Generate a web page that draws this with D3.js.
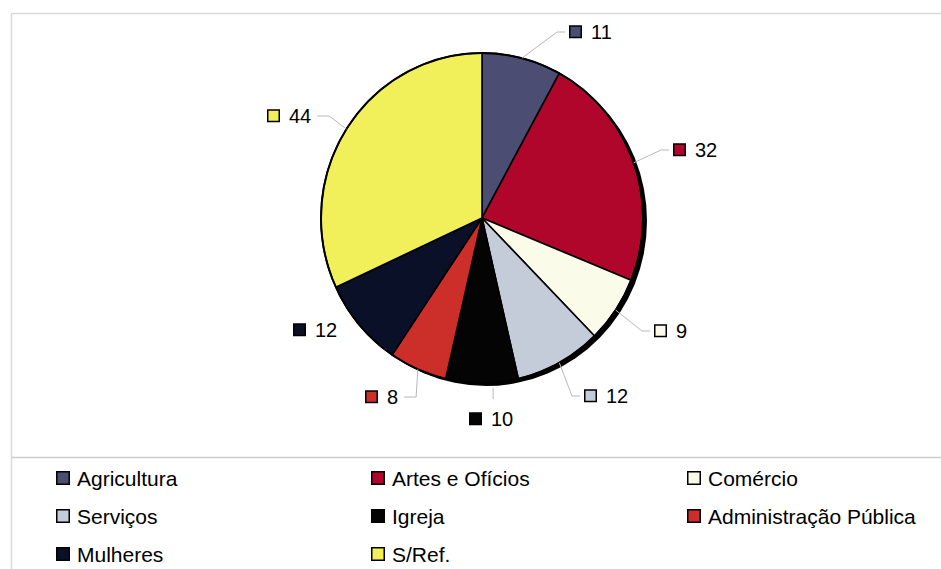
<!DOCTYPE html>
<html>
<head>
<meta charset="utf-8">
<script src="https://cdn.jsdelivr.net/npm/d3@7/dist/d3.min.js"></script>
<style>
  html, body { margin: 0; padding: 0; background: #fff; }
  svg { display: block; font-family: "Liberation Sans", Arial, sans-serif; }
</style>
</head>
<body>
<svg id="chart" width="941" height="569"></svg>
<script>
// Occupations, clockwise from 12 o'clock
const categories = ["Agricultura", "Artes e Ofícios", "Comércio", "Serviços",
                    "Igreja", "Administração Pública", "Mulheres", "S/Ref."];
const values = [11, 32, 9, 12, 10, 8, 12, 44];
const colors = ["#4b4e72", "#b0062c", "#fbfbea", "#c4ccd9",
                "#040404", "#cc2e2a", "#0b1029", "#f2f05a"];

// Where each value label sits (left edge of its swatch, vertical centre)
const labelAnchors = [[569, 32], [673, 150], [654, 331], [584, 396],
                      [469, 419], [365, 397], [293, 330], [267, 116]];
const labelHasLeader = [true, true, true, true, true, true, false, true];

const W = 941, H = 569;
const svg = d3.select("#chart");

// frame around the plot area and the legend divider
svg.append("rect")
  .attr("x", 11.5).attr("y", 13.5)
  .attr("width", W + 10).attr("height", H + 10)
  .attr("fill", "none").attr("stroke", "#dadada").attr("stroke-width", 1.5);
svg.append("line")
  .attr("x1", 11.5).attr("x2", W).attr("y1", 457.5).attr("y2", 457.5)
  .attr("stroke", "#cccccc").attr("stroke-width", 1.5);

// pie geometry
const cx = 482, cy = 218, rx = 161, ry = 165;

const pie = d3.pie().sort(null).value(d => d.value);
const data = categories.map((c, i) => ({ name: c, value: values[i], color: colors[i] }));
const arcs = pie(data);
const arc = d3.arc().innerRadius(0).outerRadius(rx);

// drop shadow behind the pie
svg.append("ellipse")
  .attr("cx", cx + 4).attr("cy", cy + 3)
  .attr("rx", rx).attr("ry", ry)
  .attr("fill", "#000");

const pieG = svg.append("g")
  .attr("transform", `translate(${cx},${cy}) scale(1,${ry / rx})`);

pieG.selectAll("path.slice")
  .data(arcs)
  .join("path")
  .attr("class", "slice")
  .attr("d", arc)
  .attr("fill", d => d.data.color)
  .attr("stroke", "#000")
  .attr("stroke-width", 1.6)
  .attr("stroke-linejoin", "round")
  .attr("vector-effect", "non-scaling-stroke");

pieG.append("ellipse")
  .attr("rx", rx).attr("ry", rx)
  .attr("fill", "none")
  .attr("stroke", "#000")
  .attr("stroke-width", 2)
  .attr("vector-effect", "non-scaling-stroke");

// value labels with leader lines
const labelFont = 20, sw = 13;
const labelsG = svg.append("g");

arcs.forEach((a, i) => {
  const mid = (a.startAngle + a.endAngle) / 2;
  const edge = [cx + rx * Math.sin(mid), cy - ry * Math.cos(mid)];
  const [lx, ly] = labelAnchors[i];

  const g = labelsG.append("g");
  g.append("rect")
    .attr("x", lx + 0.75).attr("y", ly - sw / 2 + 0.5)
    .attr("width", sw - 1.5).attr("height", sw - 1.5)
    .attr("fill", a.data.color)
    .attr("stroke", "#000").attr("stroke-width", 1.5);
  const t = g.append("text")
    .attr("x", lx + sw + 9).attr("y", ly)
    .attr("dominant-baseline", "central")
    .attr("font-size", labelFont)
    .attr("fill", "#000")
    .text(a.data.value);
  const right = lx + sw + 9 + t.node().getComputedTextLength();

  if (!labelHasLeader[i]) return;
  const deg = mid * 180 / Math.PI;
  let pts;
  if (Math.abs(deg - 180) < 12) {
    const mx = (lx + right) / 2 + 2;
    pts = [[mx, cy + ry + 5], [mx, ly - 20]];
  } else if (lx > cx) {
    pts = [edge, [lx - 12, ly], [lx - 4, ly]];
  } else {
    pts = [edge, [right + 18, ly], [right + 6, ly]];
  }
  labelsG.insert("path", ":first-child")
    .attr("d", d3.line()(pts))
    .attr("fill", "none")
    .attr("stroke", "#b8b8b8")
    .attr("stroke-width", 1);
});

// legend: three columns, filled row by row
const legendX = [56, 371, 687];
const legendY = [478, 516, 554];
const lg = svg.append("g");
data.forEach((d, i) => {
  const x = legendX[i % 3], y = legendY[Math.floor(i / 3)];
  lg.append("rect")
    .attr("x", x + 0.75).attr("y", y - 6.25)
    .attr("width", 12.5).attr("height", 12.5)
    .attr("fill", d.color)
    .attr("stroke", "#000").attr("stroke-width", 1.5);
  lg.append("text")
    .attr("x", x + 21).attr("y", y)
    .attr("dominant-baseline", "central")
    .attr("font-size", 21)
    .attr("fill", "#000")
    .text(d.name);
});
</script>
</body>
</html>
